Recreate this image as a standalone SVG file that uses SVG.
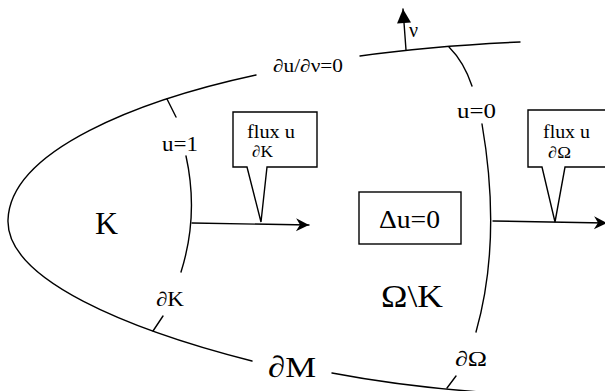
<svg xmlns="http://www.w3.org/2000/svg" width="605" height="391" viewBox="0 0 605 391">
<style>
.ln{fill:none;stroke:#000;stroke-width:1.4;stroke-linecap:round}
.bx{fill:#fff;stroke:#000;stroke-width:1.4}
text{font-family:"Liberation Serif","Times New Roman",serif;fill:#000}
</style>
<defs>
<marker id="ah" viewBox="-14 -7 15 14" markerWidth="15" markerHeight="14" refX="0" refY="0" orient="auto" markerUnits="userSpaceOnUse">
<path d="M0,0 L-13,-6.5 L-9,0 L-13,6.5 Z" fill="#000"/>
</marker>
<marker id="tri" viewBox="-15 -8 16 16" markerWidth="16" markerHeight="16" refX="0" refY="0" orient="auto" markerUnits="userSpaceOnUse">
<path d="M0,0 L-14,-7 L-14,7 Z" fill="#000"/>
</marker>
</defs>
<rect width="605" height="391" fill="#fff"/>

<g id="outer-boundary">
<path class="ln" d="M256,75 C140,100 10,150 8,220 C6,280 130,330 252,361"/>
<path class="ln" d="M332,373 Q400,386 480,392"/>
<path class="ln" d="M360,56 Q430,46 520,42"/>
<path class="ln" d="M167,99 L176,117"/>
<path class="ln" d="M163,316 L153,331"/>
<path class="ln" d="M456,376 L447,388"/>
<text x="273" y="72" font-size="18" textLength="70" lengthAdjust="spacingAndGlyphs">∂u/∂ν=0</text>
<text x="268" y="377" font-size="30" textLength="48" lengthAdjust="spacingAndGlyphs">∂M</text>
</g>

<g id="K-boundary">
<path class="ln" d="M186,156 Q199,215 181,272"/>
<text x="162" y="151" font-size="22" textLength="36" lengthAdjust="spacingAndGlyphs">u=1</text>
<text x="156" y="306" font-size="20" textLength="28" lengthAdjust="spacingAndGlyphs">∂K</text>
</g>

<g id="omega-boundary">
<path class="ln" d="M449,47 Q464,62 472,86"/>
<path class="ln" d="M482,124 Q502,240 476,332"/>
<text x="457" y="118" font-size="22" textLength="39" lengthAdjust="spacingAndGlyphs">u=0</text>
<text x="455" y="366" font-size="21" textLength="32" lengthAdjust="spacingAndGlyphs">∂Ω</text>
</g>

<g id="K">
<text x="95" y="234" font-size="32" textLength="23" lengthAdjust="spacingAndGlyphs">K</text>
</g>

<g id="omega-minus-K">
<text x="381" y="307" font-size="31" textLength="62" lengthAdjust="spacingAndGlyphs">Ω\K</text>
</g>

<g id="laplace-box">
<rect class="bx" x="359" y="192" width="102" height="52"/>
<text x="379" y="228" font-size="25" textLength="61" lengthAdjust="spacingAndGlyphs">Δu=0</text>
</g>

<g id="flux-K">
<path class="bx" d="M247,167 L233,167 L233,112 L317,112 L317,167 L267,167 L261,222 Z"/>
<text x="247" y="138" font-size="18" textLength="48" lengthAdjust="spacingAndGlyphs">flux u</text>
<text x="252" y="157" font-size="16" textLength="21" lengthAdjust="spacingAndGlyphs">∂K</text>
</g>

<g id="flux-omega">
<path class="bx" d="M542,167 L528,167 L528,110 L610,110 L610,167 L565,167 L555,222 Z"/>
<text x="543" y="138" font-size="18" textLength="47" lengthAdjust="spacingAndGlyphs">flux u</text>
<text x="548" y="158" font-size="16" textLength="23" lengthAdjust="spacingAndGlyphs">∂Ω</text>
</g>

<g id="connectors">
<path class="ln" d="M192,223 L309,225" marker-end="url(#ah)"/>
<path class="ln" d="M493,221 L607,223" marker-end="url(#ah)"/>
<path class="ln" d="M406,50 L403,9" marker-end="url(#tri)"/>
<text x="409" y="37" font-size="20">ν</text>
</g>
</svg>
